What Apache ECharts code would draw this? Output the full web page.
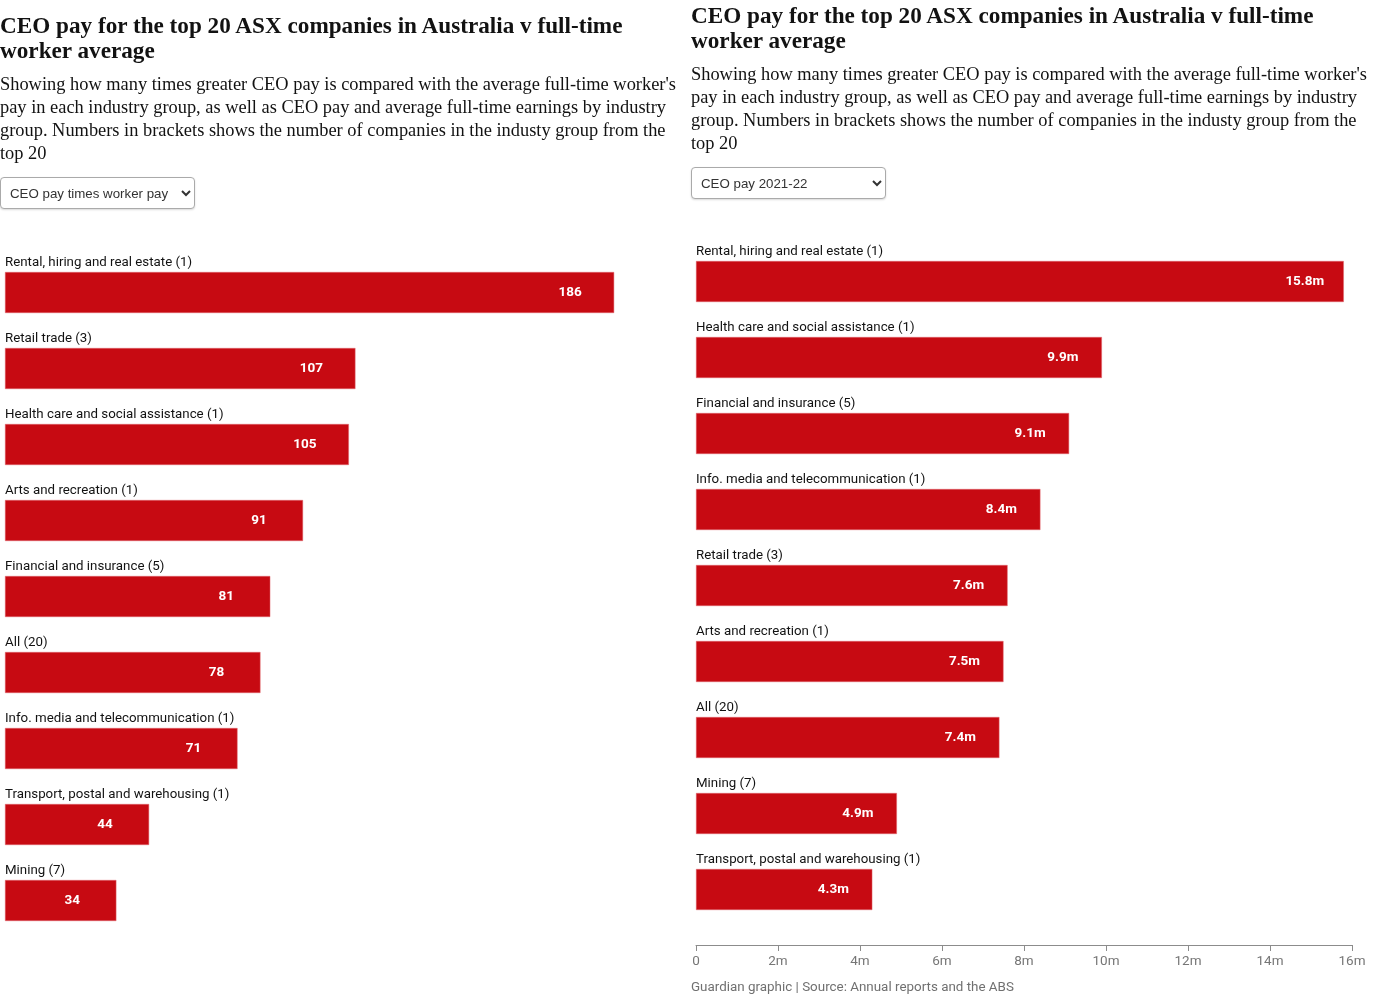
<!DOCTYPE html>
<html>
<head>
<meta charset="utf-8">
<script src="https://cdn.jsdelivr.net/npm/echarts@6/dist/echarts.min.js"></script>
<style>
  html, body { margin: 0; padding: 0; background: #fff; }
  #wrap { position: relative; width: 1374px; height: 1004px; overflow: hidden; }
  #chart { position: absolute; left: 0; top: 0; width: 1374px; height: 1004px; }
  .title { position: absolute; font-family: "Liberation Serif", serif; font-weight: bold; font-size: 23.2px; line-height: 25px; color: #121212; white-space: nowrap; letter-spacing: 0; }
  .sub { position: absolute; font-family: "Liberation Serif", serif; font-size: 18.4px; line-height: 23px; color: #121212; white-space: nowrap; }
  select { position: absolute; height: 32px; width: 195px; font-family: "Liberation Sans", Arial, sans-serif; font-size: 13.3px; color: #333; background: #fff; border: 1px solid #aaa; border-radius: 4px; padding: 0 5px; box-shadow: 0 1px 2px rgba(0,0,0,0.15); }
  .foot { position: absolute; font-family: "Roboto", sans-serif; font-size: 13.4px; color: #707070; white-space: nowrap; }
</style>
</head>
<body>
<div id="wrap">
  <div id="chart"></div>
  <div class="title" style="left:0; top:13px;">CEO pay for the top 20 ASX companies in Australia v full-time<br>worker average</div>
  <div class="sub" style="left:0; top:73px;">Showing how many times greater CEO pay is compared with the average full-time worker's<br>pay in each industry group, as well as CEO pay and average full-time earnings by industry<br>group. Numbers in brackets shows the number of companies in the industy group from the<br>top 20</div>
  <select style="left:0; top:177px;"><option>CEO pay times worker pay</option></select>
  <div class="title" style="left:691px; top:3px;">CEO pay for the top 20 ASX companies in Australia v full-time<br>worker average</div>
  <div class="sub" style="left:691px; top:63px;">Showing how many times greater CEO pay is compared with the average full-time worker's<br>pay in each industry group, as well as CEO pay and average full-time earnings by industry<br>group. Numbers in brackets shows the number of companies in the industy group from the<br>top 20</div>
  <select style="left:691px; top:167px;"><option>CEO pay 2021-22</option></select>
  <div class="foot" style="left:691px; top:979px;">Guardian graphic | Source: Annual reports and the ABS</div>
</div>
<script>
// Left panel: CEO pay times worker pay
var leftCategories = ['Rental, hiring and real estate (1)', 'Retail trade (3)', 'Health care and social assistance (1)', 'Arts and recreation (1)', 'Financial and insurance (5)', 'All (20)', 'Info. media and telecommunication (1)', 'Transport, postal and warehousing (1)', 'Mining (7)'];
var leftValues = [186, 107, 105, 91, 81, 78, 71, 44, 34];

// Right panel: CEO pay 2021-22 ($m)
var rightCategories = ['Rental, hiring and real estate (1)', 'Health care and social assistance (1)', 'Financial and insurance (5)', 'Info. media and telecommunication (1)', 'Retail trade (3)', 'Arts and recreation (1)', 'All (20)', 'Mining (7)', 'Transport, postal and warehousing (1)'];
var rightValues = [15.8, 9.9, 9.1, 8.4, 7.6, 7.5, 7.4, 4.9, 4.3];
var rightTicks = ['0', '2m', '4m', '6m', '8m', '10m', '12m', '14m', '16m'];

var RED = '#c70a12';
var sans = 'Roboto, sans-serif';

var chart = echarts.init(document.getElementById('chart'), null, { renderer: 'canvas' });

function catAxis(idx, cats) {
  return {
    type: 'category', gridIndex: idx, data: cats, inverse: true,
    axisLine: { show: false }, axisTick: { show: false },
    axisLabel: {
      inside: true, margin: 0, align: 'left', verticalAlign: 'bottom',
      padding: [0, 0, 23, 0], color: '#121212', fontSize: 13.3, fontFamily: sans
    }
  };
}

chart.setOption({
  animation: false,
  grid: [
    { left: 5, top: 254.5, width: 655, height: 684 },
    { left: 696, top: 243.5, width: 656, height: 684 }
  ],
  xAxis: [
    { type: 'value', gridIndex: 0, min: 0, max: 200, show: false },
    {
      type: 'value', gridIndex: 1, min: 0, max: 16, interval: 2, offset: 17.5,
      axisLine: { show: true, lineStyle: { color: '#8c8c8c', width: 1 } },
      axisTick: { show: true, length: 6, lineStyle: { color: '#8c8c8c' } },
      splitLine: { show: false },
      axisLabel: {
        margin: 10, color: '#767676', fontSize: 13.5, fontFamily: sans,
        formatter: function (v) { return rightTicks[Math.round(v / 2)]; }
      }
    }
  ],
  yAxis: [catAxis(0, leftCategories), catAxis(1, rightCategories)],
  series: [
    {
      type: 'bar', xAxisIndex: 0, yAxisIndex: 0, data: leftValues, barWidth: 41,
      itemStyle: { color: RED, borderColor: '#e06a70', borderWidth: 0.5 },
      label: { show: true, position: 'insideRight', distance: 44, align: 'center',
        color: '#fff', fontWeight: 'bold', fontSize: 13.5, fontFamily: sans }
    },
    {
      type: 'bar', xAxisIndex: 1, yAxisIndex: 1, data: rightValues, barWidth: 41,
      itemStyle: { color: RED, borderColor: '#e06a70', borderWidth: 0.5 },
      label: { show: true, position: 'insideRight', distance: 39, align: 'center',
        color: '#fff', fontWeight: 'bold', fontSize: 13.5, fontFamily: sans,
        formatter: function (p) { return p.value + 'm'; } }
    }
  ]
});
</script>
</body>
</html>
